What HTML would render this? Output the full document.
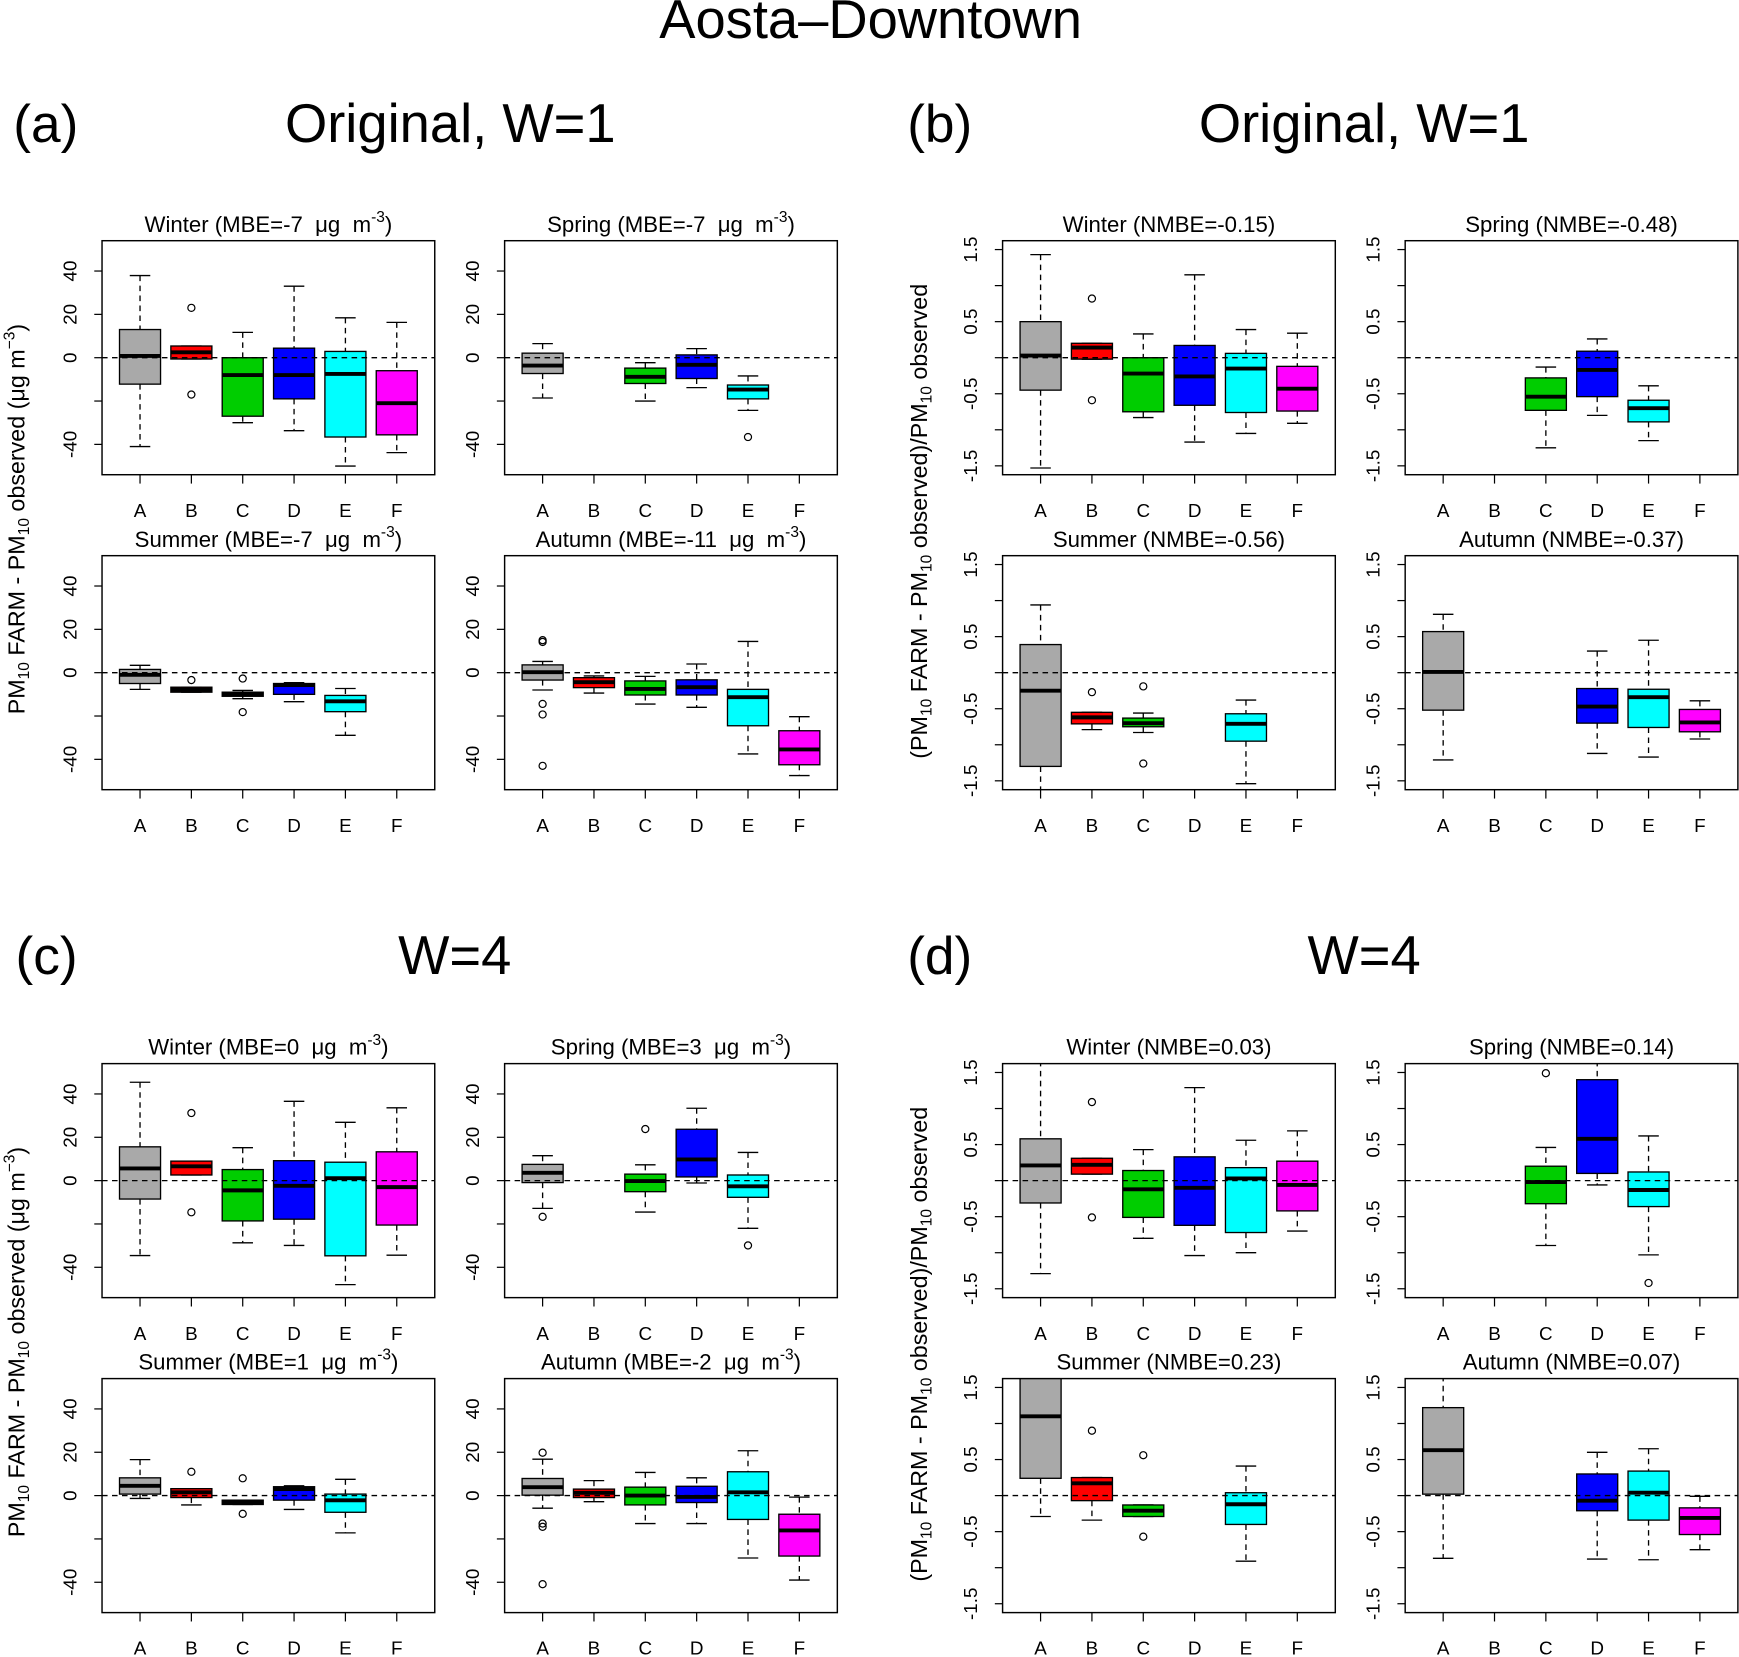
<!DOCTYPE html>
<html><head><meta charset="utf-8">
<style>
html,body{margin:0;padding:0;background:#fff;}
svg{display:block;font-family:"Liberation Sans",Arial,sans-serif;}
</style></head>
<body>
<svg id="fig" width="1739" height="1657" viewBox="0 0 1568 1494" xmlns="http://www.w3.org/2000/svg">
<rect x="0" y="0" width="1568" height="1494" fill="#fff"/>
<text x="785" y="34" font-size="49" text-anchor="middle">Aosta–Downtown</text>
<text x="12" y="128" font-size="48">(a)</text>
<text x="406" y="128" font-size="49" text-anchor="middle">Original, W=1</text>
<text x="818" y="128" font-size="48">(b)</text>
<text x="1230" y="128" font-size="49" text-anchor="middle">Original, W=1</text>
<text x="14" y="878" font-size="48">(c)</text>
<text x="410" y="878" font-size="49" text-anchor="middle">W=4</text>
<text x="818" y="878" font-size="48">(d)</text>
<text x="1230" y="878" font-size="49" text-anchor="middle">W=4</text>

<text transform="translate(22,468) rotate(-90)" font-size="21" text-anchor="middle">PM<tspan font-size="14" dy="4">10</tspan><tspan dy="-4"> FARM - PM</tspan><tspan font-size="14" dy="4">10</tspan><tspan dy="-4"> observed (μg m</tspan><tspan font-size="14" dy="-9">−3</tspan><tspan dy="9">)</tspan></text>
<text transform="translate(22,1210) rotate(-90)" font-size="21" text-anchor="middle">PM<tspan font-size="14" dy="4">10</tspan><tspan dy="-4"> FARM - PM</tspan><tspan font-size="14" dy="4">10</tspan><tspan dy="-4"> observed (μg m</tspan><tspan font-size="14" dy="-9">−3</tspan><tspan dy="9">)</tspan></text>
<text transform="translate(836,470) rotate(-90)" font-size="21" text-anchor="middle">(PM<tspan font-size="14" dy="4">10</tspan><tspan dy="-4"> FARM - PM</tspan><tspan font-size="14" dy="4">10</tspan><tspan dy="-4"> observed)/PM</tspan><tspan font-size="14" dy="4">10</tspan><tspan dy="-4"> observed</tspan></text>
<text transform="translate(836,1212) rotate(-90)" font-size="21" text-anchor="middle">(PM<tspan font-size="14" dy="4">10</tspan><tspan dy="-4"> FARM - PM</tspan><tspan font-size="14" dy="4">10</tspan><tspan dy="-4"> observed)/PM</tspan><tspan font-size="14" dy="4">10</tspan><tspan dy="-4"> observed</tspan></text>
<g id="panels"></g>
</svg>
<script>
const categories = ['A','B','C','D','E','F'];
const colors = ['#a9a9a9','#ff0000','#00cd00','#0000ff','#00ffff','#ff00ff'];
const seasons = ['Winter','Spring','Summer','Autumn'];
const mbeTicks = [-40,-20,0,20,40];
const mbeTickLabels = ['-40','','0','20','40'];
const nmbeTicks = [-1.5,-1,-0.5,0,0.5,1,1.5];
const nmbeTickLabels = ['-1.5','','-0.5','','0.5','','1.5'];
const N = null;

// Section (a): MBE, original W=1
const aScores = ['-7','-7','-7','-11'];
const aLo  = [[-41,-0.6,-30,-33.7,-50,-43.8],[-18.6,N,-20,-13.8,-24.3,N],[-7.7,-9,-12,-13.4,-28.9,N],[-8,-9.4,-14.5,-16,-37.5,-47.5]];
const aQ1  = [[-12.2,-0.6,-27,-19,-36.6,-35.6],[-7.3,N,-11.9,-9.6,-19,N],[-5,-9,-10.9,-10,-18,N],[-3.4,-6.9,-10.3,-10.3,-24.5,-42.5]];
const aMed = [[0.8,2.5,-8,-8,-7.5,-21],[-3.6,N,-8.8,-3.3,-14.7,N],[-1,-7.8,-10,-5.7,-13.2,N],[0.2,-4.4,-7.5,-6.7,-11.3,-35.4]];
const aQ3  = [[13,5.4,0,4.4,2.9,-6],[2.1,N,-4.8,1.3,-12.6,N],[1.5,-6.7,-9,-5,-10.5,N],[3.6,-2.3,-3.8,-3.3,-7.7,-26.8]];
const aHi  = [[37.9,5.4,11.7,33,18.4,16.3],[6.5,N,-2.3,4.2,-8.4,N],[3.4,-6.7,-8.2,-4.6,-7.3,N],[5.2,-1.5,-1.7,4,14.4,-20.3]];
const aOut = [[[],[23,-17],[],[],[],[]],[[],[],[],[],[-36.6],[]],[[],[-3.4],[-2.7,-18.2],[],[],[]],[[15,14.2,-14.4,-19.3,-43],[],[],[],[],[]]];

// Section (b): NMBE, original W=1
const bScores = ['-0.15','-0.48','-0.56','-0.37'];
const bLo  = [[-1.53,-0.02,-0.83,-1.17,-1.05,-0.91],[N,N,-1.25,-0.8,-1.15,N],[-1.7,-0.79,-0.83,N,-1.54,N],[-1.21,N,N,-1.12,-1.17,-0.92]];
const bQ1  = [[-0.45,-0.02,-0.75,-0.66,-0.76,-0.74],[N,N,-0.73,-0.54,-0.89,N],[-1.3,-0.71,-0.75,N,-0.95,N],[-0.52,N,N,-0.7,-0.76,-0.82]];
const bMed = [[0.03,0.14,-0.22,-0.26,-0.15,-0.43],[N,N,-0.54,-0.17,-0.7,N],[-0.25,-0.62,-0.7,N,-0.71,N],[0.01,N,N,-0.47,-0.34,-0.69]];
const bQ3  = [[0.5,0.2,0,0.17,0.06,-0.12],[N,N,-0.28,0.09,-0.59,N],[0.39,-0.55,-0.63,N,-0.57,N],[0.57,N,N,-0.22,-0.23,-0.51]];
const bHi  = [[1.43,0.2,0.33,1.15,0.39,0.34],[N,N,-0.13,0.26,-0.39,N],[0.94,-0.55,-0.56,N,-0.38,N],[0.81,N,N,0.3,0.45,-0.39]];
const bOut = [[[],[0.82,-0.59],[],[],[],[]],[[],[],[],[],[],[]],[[],[-0.27],[-0.19,-1.26],[],[],[]],[[],[],[],[],[],[]]];

// Section (c): MBE, W=4
const cScores = ['0','3','1','-2'];
const cLo  = [[-34.6,2.6,-28.7,-29.9,-48,-34.4],[-12.8,N,-14.5,-1.1,-22,N],[-1.3,-4.3,-4.1,-6.4,-17.2,N],[-5.8,-2.8,-12.9,-12.9,-28.8,-39]];
const cQ1  = [[-8.5,2.6,-18.6,-17.8,-34.7,-20.5],[-0.9,N,-5.1,1.7,-7.7,N],[0.7,-0.9,-4.1,-2.1,-7.7,N],[0.2,-0.9,-4.3,-3.2,-11,-27.9]];
const cMed = [[5.6,6.6,-4.5,-2.4,1.1,-3],[3.6,N,-0.2,9.8,-2.6,N],[4.5,1.5,-3,3,-2.2,N],[3.9,1.3,0,-0.6,1.5,-16.1]];
const cQ3  = [[15.6,9,5.1,9.2,8.5,13.3],[7.5,N,3,23.7,2.6,N],[8.2,3.2,-2.1,4.1,0.7,N],[7.9,3,3.9,4.3,11,-8.6]];
const cHi  = [[45.4,9,15.2,36.6,26.9,33.6],[11.5,N,7.3,33.4,13,N],[16.6,3.2,-2.1,4.5,7.5,N],[16.8,6.9,10.7,8.2,20.7,-0.7]];
const cOut = [[[],[31.2,-14.6],[],[],[],[]],[[-16.7],[],[23.8],[],[-29.9],[]],[[],[11],[8,-8.4],[],[],[]],[[19.8,-12.9,-14.4,-40.9],[],[],[],[],[]]];

// Section (d): NMBE, W=4
const dScores = ['0.03','0.14','0.23','0.07'];
const dLo  = [[-1.29,0.09,-0.8,-1.04,-1.0,-0.7],[N,N,-0.9,-0.06,-1.03,N],[-0.29,-0.34,-0.29,N,-0.91,N],[-0.87,N,N,-0.88,-0.89,-0.75]];
const dQ1  = [[-0.31,0.09,-0.51,-0.62,-0.72,-0.42],[N,N,-0.32,0.1,-0.36,N],[0.24,-0.07,-0.29,N,-0.4,N],[0.02,N,N,-0.21,-0.34,-0.54]];
const dMed = [[0.21,0.22,-0.12,-0.1,0.03,-0.06],[N,N,-0.02,0.58,-0.13,N],[1.1,0.17,-0.21,N,-0.12,N],[0.63,N,N,-0.07,0.04,-0.31]];
const dQ3  = [[0.58,0.31,0.14,0.33,0.18,0.27],[N,N,0.2,1.4,0.12,N],[1.9,0.25,-0.13,N,0.04,N],[1.22,N,N,0.3,0.34,-0.17]];
const dHi  = [[1.8,0.31,0.43,1.29,0.56,0.69],[N,N,0.46,1.8,0.62,N],[2.2,0.25,-0.13,N,0.41,N],[1.8,N,N,0.6,0.65,-0.01]];
const dOut = [[[],[1.09,-0.51],[],[],[],[]],[[],[],[1.49],[],[-1.42],[]],[[],[0.9],[0.56,-0.57],[],[],[]],[[],[],[],[],[],[]]];

const NS = 'http://www.w3.org/2000/svg';
const root = document.getElementById('panels');
function mk(tag, attrs, parent){
  const e = document.createElementNS(NS, tag);
  for (const k in attrs) e.setAttribute(k, attrs[k]);
  (parent||root).appendChild(e);
  return e;
}
const PW = 300, PH = 211;
const sections = [
  {key:'a', kind:'MBE', col0:92, row0:217, lo:aLo,q1:aQ1,med:aMed,q3:aQ3,hi:aHi,out:aOut,sc:aScores},
  {key:'b', kind:'NMBE', col0:904, row0:217, lo:bLo,q1:bQ1,med:bMed,q3:bQ3,hi:bHi,out:bOut,sc:bScores},
  {key:'c', kind:'MBE', col0:92, row0:959, lo:cLo,q1:cQ1,med:cMed,q3:cQ3,hi:cHi,out:cOut,sc:cScores},
  {key:'d', kind:'NMBE', col0:904, row0:959, lo:dLo,q1:dQ1,med:dMed,q3:dQ3,hi:dHi,out:dOut,sc:dScores}
];
let clipId = 0;
sections.forEach(s => {
  const mbe = s.kind === 'MBE';
  const ymax = mbe ? 54 : 1.623;
  const ticks = mbe ? mbeTicks : nmbeTicks;
  const tickLabels = mbe ? mbeTickLabels : nmbeTickLabels;
  for (let p = 0; p < 4; p++) {
    const left = s.col0 + (p % 2) * 363;
    const top = s.row0 + Math.floor(p / 2) * 284;
    const xs = i => left + (i + 1 - 0.26) / 6.48 * PW;
    const ys = v => top + (ymax - v) / (2 * ymax) * PH;
    const g = mk('g', {});
    
    
    const t = mk('text', {x: left + PW/2, y: top - 8, 'font-size': 20, 'text-anchor': 'middle'}, g);
    
    
    if (mbe) {
      t.textContent = seasons[p] + ' (MBE=' + s.sc[p] + '\u00a0\u00a0μg\u00a0\u00a0m';
      const sup = mk('tspan', {'font-size': 14, dy: -9}, t); sup.textContent = '-3';
      const cl = mk('tspan', {dy: 9}, t); cl.textContent = ')';
    } else {
      t.textContent = seasons[p] + ' (NMBE=' + s.sc[p] + ')';
    }
    const cid = 'clip' + (clipId++);
    const cp = mk('clipPath', {id: cid}, g);
    mk('rect', {x: left, y: top, width: PW, height: PH}, cp);
    const inner = mk('g', {'clip-path': 'url(#' + cid + ')'}, g);
    for (let i = 0; i < 6; i++) {
      if (s.med[p][i] === null) continue;
      const cx = xs(i), hw = 18.5, sw = 9.25;
      const bg = mk('g', {}, inner);
      
      
      mk('line', {x1: cx, x2: cx, y1: ys(s.hi[p][i]), y2: ys(s.q3[p][i]), stroke: '#000', 'stroke-width': 1.2, 'stroke-dasharray': '5,4'}, bg);
      mk('line', {x1: cx, x2: cx, y1: ys(s.q1[p][i]), y2: ys(s.lo[p][i]), stroke: '#000', 'stroke-width': 1.2, 'stroke-dasharray': '5,4'}, bg);
      mk('line', {x1: cx - sw, x2: cx + sw, y1: ys(s.hi[p][i]), y2: ys(s.hi[p][i]), stroke: '#000', 'stroke-width': 1.2}, bg);
      mk('line', {x1: cx - sw, x2: cx + sw, y1: ys(s.lo[p][i]), y2: ys(s.lo[p][i]), stroke: '#000', 'stroke-width': 1.2}, bg);
      const yq3 = ys(s.q3[p][i]), yq1 = ys(s.q1[p][i]);
      mk('rect', {x: cx - hw, y: yq3, width: 2*hw, height: Math.max(yq1 - yq3, 0.5), fill: colors[i], stroke: '#000', 'stroke-width': 1.2}, bg);
      mk('line', {x1: cx - hw, x2: cx + hw, y1: ys(s.med[p][i]), y2: ys(s.med[p][i]), stroke: '#000', 'stroke-width': 3.5}, bg);
      s.out[p][i].forEach(v => {
        const c = mk('circle', {cx: cx, cy: ys(v), r: 3.2, fill: 'none', stroke: '#000', 'stroke-width': 1.1}, bg);
        
        
      });
    }
    const z = mk('line', {x1: left, x2: left + PW, y1: ys(0), y2: ys(0), stroke: '#000', 'stroke-width': 1.2, 'stroke-dasharray': '5,4'}, g);
    
    
    const fr = mk('rect', {x: left, y: top, width: PW, height: PH, fill: 'none', stroke: '#000', 'stroke-width': 1.3}, g);
    
    
    ticks.forEach((v, k) => {
      const y = ys(v);
      mk('line', {x1: left - 7, x2: left, y1: y, y2: y, stroke: '#000', 'stroke-width': 1.1}, g);
      if (tickLabels[k]) {
        const tl = mk('text', {transform: 'translate(' + (left - 23) + ',' + y + ') rotate(-90)', 'font-size': 17, 'text-anchor': 'middle'}, g);
        
        
        tl.textContent = tickLabels[k];
      }
    });
    categories.forEach((c, i) => {
      const x = xs(i);
      mk('line', {x1: x, x2: x, y1: top + PH, y2: top + PH + 8, stroke: '#000', 'stroke-width': 1.1}, g);
      const xl = mk('text', {x: x, y: top + PH + 38, 'font-size': 17, 'text-anchor': 'middle'}, g);
      
      
      xl.textContent = c;
    });
  }
});
</script>
</body></html>
